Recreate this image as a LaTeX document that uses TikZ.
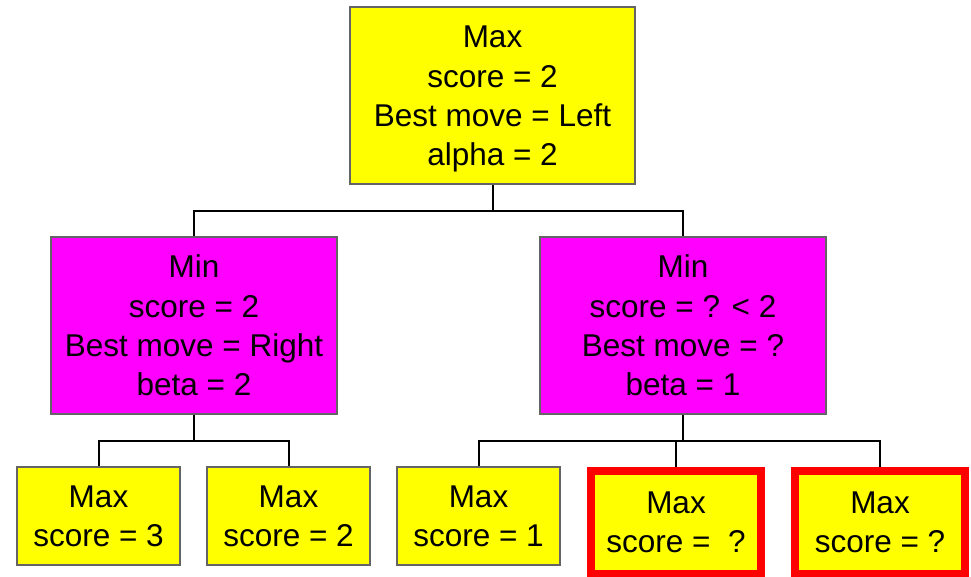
\documentclass[tikz,border=0pt]{standalone}
\usepackage{fontspec}
\setmainfont{Liberation Sans}
\definecolor{maxfill}{RGB}{255,255,0}
\definecolor{minfill}{RGB}{255,0,255}
\definecolor{edgegray}{RGB}{100,100,100}
\definecolor{prunered}{RGB}{255,0,0}
\tikzset{
  treebox/.style={draw=edgegray, line width=1.5pt, align=center, inner sep=0pt,
    font=\fontsize{31.5}{39.3}\selectfont},
  maxbig/.style={treebox, fill=maxfill, minimum width=285pt, minimum height=177pt},
  minbig/.style={treebox, fill=minfill, minimum width=286pt, minimum height=177pt},
  leafbox/.style={treebox, fill=maxfill, minimum width=163pt, minimum height=98pt},
  prunedbox/.style={treebox, draw=prunered, line width=8pt, fill=maxfill,
    minimum width=170pt, minimum height=103pt},
  link/.style={draw=black, line width=2pt}
}
\begin{document}
\begin{tikzpicture}[x=1pt,y=-1pt]
\useasboundingbox (0,0) rectangle (971,576);

% root and the two min nodes
\node[maxbig] (root) at (492.5,95.5) {\rule{0pt}{29pt}Max\\score = 2\\Best move = Left\\alpha = 2};
\node[minbig] (minL) at (194,325.5) {Min\\score = 2\\Best move = Right\\beta = 2};
\node[minbig] (minR) at (683,325.5) {Min\\score = ? < 2\\Best move = ?\\beta = 1};

% leaves
\node[leafbox] (l1) at (98.5,516) {Max\\score = 3};
\node[leafbox] (l2) at (288.5,516) {Max\\score = 2};
\node[leafbox] (l3) at (478.5,516) {Max\\score = 1};
\node[prunedbox] (l4) at (676,522.5) {Max\\score = \ ?};
\node[prunedbox] (l5) at (880,522.5) {Max\\score = ?};

% connectors
\coordinate (jroot) at ([yshift=-26pt]root.south);
\coordinate (jminL) at ([yshift=-26pt]minL.south);
\coordinate (jminR) at ([yshift=-26pt]minR.south);
\path[link] (root.south) -- (jroot);
\path[link] (minL.north) |- (jroot) -| (minR.north);
\path[link] (minL.south) -- (jminL);
\path[link] (l1.north) |- (jminL) -| (l2.north);
\path[link] (minR.south) -- (jminR);
\path[link] (l3.north) |- (jminR) -| (l5.north);
\path[link] (l4.north) -- (l4.north |- jminR);
\end{tikzpicture}
\end{document}
